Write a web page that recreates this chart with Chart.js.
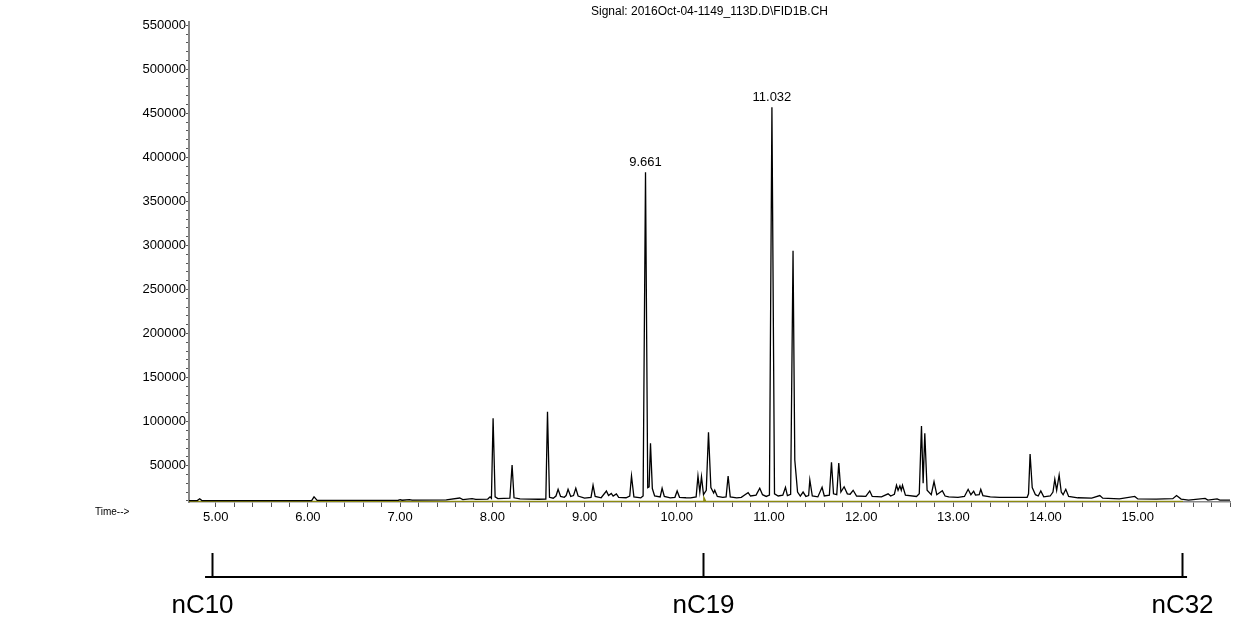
<!DOCTYPE html>
<html>
<head>
<meta charset="utf-8">
<script src="https://cdn.jsdelivr.net/npm/chart.js@4.4.0/dist/chart.umd.min.js"></script>
<style>
  html, body { margin: 0; padding: 0; background: #fff; }
  #wrap { width: 1233px; height: 623px; }
</style>
</head>
<body>
<div id="wrap"><canvas id="fidChart" width="1233" height="623"></canvas></div>
<script>
// retention time (min) and detector signal
const times = [
  4.71, 4.80, 4.826, 4.85, 5.50, 6.04, 6.066, 6.10, 6.50, 6.98, 7.00, 7.02, 7.10, 7.13,
  7.50, 7.646, 7.68, 7.78, 7.82, 7.95, 7.975, 7.99, 8.008, 8.03, 8.06, 8.19, 8.214, 8.235,
  8.30, 8.40, 8.50, 8.58, 8.598, 8.62, 8.66, 8.69, 8.713, 8.74, 8.78, 8.80, 8.821, 8.85,
  8.88, 8.905, 8.93, 9.00, 9.07, 9.092, 9.115, 9.18, 9.237, 9.26, 9.29, 9.31, 9.345, 9.37,
  9.45, 9.49, 9.509, 9.535, 9.61, 9.635, 9.661, 9.685, 9.70, 9.715, 9.735, 9.76, 9.82, 9.841,
  9.865, 9.93, 9.98, 10.004, 10.03, 10.10, 10.15, 10.21, 10.23, 10.25, 10.268, 10.29, 10.32, 10.344,
  10.37, 10.40, 10.412, 10.44, 10.50, 10.535, 10.557, 10.58, 10.65, 10.70, 10.74, 10.774, 10.80, 10.86,
  10.90, 10.93, 10.97, 11.005, 11.032, 11.06, 11.10, 11.15, 11.179, 11.20, 11.235, 11.261, 11.28, 11.31,
  11.34, 11.37, 11.40, 11.43, 11.443, 11.47, 11.53, 11.576, 11.60, 11.655, 11.678, 11.70, 11.735, 11.757,
  11.78, 11.815, 11.85, 11.88, 11.913, 11.95, 12.05, 12.093, 12.12, 12.22, 12.292, 12.32, 12.36, 12.383,
  12.40, 12.42, 12.435, 12.448, 12.48, 12.60, 12.63, 12.654, 12.672, 12.69, 12.715, 12.76, 12.79, 12.82,
  12.88, 12.91, 12.95, 13.05, 13.12, 13.16, 13.19, 13.22, 13.24, 13.28, 13.297, 13.32, 13.40, 13.50,
  13.65, 13.80, 13.815, 13.832, 13.855, 13.89, 13.92, 13.948, 13.98, 14.05, 14.08, 14.10, 14.12, 14.147,
  14.17, 14.19, 14.219, 14.25, 14.35, 14.50, 14.588, 14.62, 14.80, 14.967, 15.00, 15.20, 15.38, 15.42,
  15.47, 15.55, 15.73, 15.76, 15.86, 15.89, 16.00
];
const signal = [
  10300, 10300, 12300, 10300, 10200, 10300, 14500, 10600, 10500, 10700, 11300, 10700, 11300, 10800,
  11000, 13200, 11500, 12500, 11600, 12000, 14500, 12800, 103700, 14500, 12500, 13000, 50700, 13500,
  12300, 12000, 11800, 12000, 111200, 14000, 13000, 15500, 23100, 15000, 14000, 16000, 23100, 15000,
  16000, 24300, 15500, 13200, 14000, 27700, 15000, 13500, 21200, 16000, 18500, 15500, 17800, 14000,
  13500, 15500, 38200, 14500, 13500, 15500, 383100, 25000, 26000, 75300, 24000, 15500, 14500, 24300,
  15000, 13500, 14000, 21200, 14000, 13500, 13300, 14500, 38200, 20000, 37500, 17000, 22000, 87800,
  25000, 19000, 22000, 15000, 14000, 14500, 38200, 14500, 13500, 14000, 17000, 19300, 15500, 16500,
  24300, 17000, 15000, 16500, 456900, 18000, 15500, 16500, 25400, 16000, 17500, 293900, 56400, 20000,
  15500, 20000, 15000, 16000, 33700, 15500, 14500, 25400, 15500, 16500, 53800, 18000, 17000, 53000,
  20000, 26000, 18000, 17500, 22000, 15500, 15000, 21200, 15000, 14500, 18000, 15500, 17500, 27700,
  22000, 27000, 22000, 27700, 16500, 15000, 18000, 95000, 30000, 86700, 22000, 17000, 31800, 17000,
  21500, 15500, 14500, 14000, 15000, 23100, 17000, 21000, 16500, 17000, 23100, 16000, 14500, 14000,
  14000, 14000, 18000, 63200, 25000, 17000, 15500, 21200, 14500, 15500, 20000, 34500, 22000, 39400,
  20000, 17000, 23100, 15000, 13500, 13000, 16000, 13000, 12200, 15000, 12200, 12000, 12500, 16000,
  12000, 10800, 12800, 10800, 12300, 10800, 10800
];

// integration baseline (olive line under the trace)
const baselineTimes = [4.71, 10.29, 10.30, 10.30, 10.31, 15.49];
const baselineValues = [8700, 8700, 8700, 11000, 8700, 8700];

// axis ticks
const yTickValues = Array.from({ length: 55 }, (_, i) => (i + 1) * 10000);
const yTickLabels = [50000, 100000, 150000, 200000, 250000, 300000, 350000, 400000, 450000, 500000, 550000];
const xTickLabels = ['5.00', '6.00', '7.00', '8.00', '9.00', '10.00', '11.00', '12.00', '13.00', '14.00', '15.00'];

// labelled peaks
const peakTimes = [9.661, 11.032];
const peakLabels = ['9.661', '11.032'];

// n-alkane markers under the time axis
const markerTimes = [4.96, 10.28, 15.48];
const markerLabels = ['nC10', 'nC19', 'nC32'];

const titleText = 'Signal: 2016Oct-04-1149_113D.D\\FID1B.CH';

const xMin = 4.71, xMax = 16.0;
const yMin = 8700, yMax = 553300;

const ctx = document.getElementById('fidChart').getContext('2d');

const annotate = {
  id: 'annotate',
  afterDraw(chart) {
    const c = chart.ctx;
    const xs = chart.scales.x, ys = chart.scales.y;
    const area = chart.chartArea;
    c.save();
    c.fillStyle = '#000';

    // peak retention time labels
    c.font = '13px "Liberation Sans", Arial, sans-serif';
    c.textAlign = 'center';
    c.textBaseline = 'bottom';
    peakTimes.forEach((t, i) => {
      const idx = times.indexOf(t);
      const px = xs.getPixelForValue(t);
      const py = ys.getPixelForValue(signal[idx]);
      c.fillText(peakLabels[i], px, py - 3);
    });

    // Time--> caption
    c.font = '10px "Liberation Sans", Arial, sans-serif';
    c.textAlign = 'left';
    c.textBaseline = 'middle';
    c.fillText('Time-->', area.left - 94, area.bottom + 10);

    // carbon number bar
    const lineY = area.bottom + 75;
    const x0 = xs.getPixelForValue(markerTimes[0]) - 7;
    const x1 = xs.getPixelForValue(markerTimes[markerTimes.length - 1]) + 5;
    c.strokeStyle = '#000';
    c.lineWidth = 2;
    c.beginPath();
    c.moveTo(x0, lineY);
    c.lineTo(x1, lineY);
    c.stroke();
    c.font = '26px "Liberation Sans", Arial, sans-serif';
    c.textAlign = 'center';
    c.textBaseline = 'middle';
    markerTimes.forEach((t, i) => {
      const px = Math.round(xs.getPixelForValue(t)) + 0.5;
      c.beginPath();
      c.moveTo(px, lineY - 24);
      c.lineTo(px, lineY);
      c.stroke();
      c.fillText(markerLabels[i], i === 0 ? px - 10 : px, lineY + 29);
    });
    c.restore();
  }
};

new Chart(ctx, {
  type: 'line',
  data: {
    datasets: [{
      label: 'FID1 B',
      data: times.map((t, i) => ({ x: t, y: signal[i] })),
      borderColor: '#000',
      borderWidth: 1.3,
      pointRadius: 0,
      tension: 0,
      fill: false
    }, {
      label: 'baseline',
      data: baselineTimes.map((t, i) => ({ x: t, y: baselineValues[i] })),
      borderColor: '#8c8a10',
      borderWidth: 2.5,
      pointRadius: 0,
      tension: 0,
      fill: false
    }]
  },
  options: {
    responsive: false,
    animation: false,
    layout: { padding: { left: 0, right: 3, top: 0, bottom: 0 } },
    plugins: {
      legend: { display: false },
      tooltip: { enabled: false },
      title: {
        display: true,
        text: titleText,
        fullSize: false,
        color: '#000',
        font: { family: 'Liberation Sans', size: 12, weight: 'normal' },
        padding: { top: 4, bottom: 4 }
      }
    },
    scales: {
      x: {
        type: 'linear',
        min: xMin,
        max: xMax,
        afterBuildTicks: axis => {
          axis.ticks = axis.ticks.filter(t => Math.abs(t.value * 5 - Math.round(t.value * 5)) < 1e-6);
        },
        afterFit: axis => { axis.height = 121; },
        grid: { drawOnChartArea: false, tickLength: 5, tickColor: '#555', tickWidth: 1 },
        border: { color: '#888', width: 1.5 },
        ticks: {
          stepSize: 0.2,
          autoSkip: false,
          maxRotation: 0,
          padding: 3,
          color: '#000',
          font: { family: 'Liberation Sans', size: 13 },
          callback: v => {
            const label = v.toFixed(2);
            return xTickLabels.includes(label) ? label : '';
          }
        }
      },
      y: {
        min: yMin,
        max: yMax,
        afterBuildTicks: axis => {
          axis.ticks = yTickValues.map(v => ({ value: v }));
        },
        afterFit: axis => { axis.width = 189; },
        grid: { drawOnChartArea: false, tickLength: 3, tickColor: '#555', tickWidth: 1 },
        border: { color: '#888', width: 2 },
        ticks: {
          autoSkip: false,
          padding: 0,
          color: '#000',
          font: { family: 'Liberation Sans', size: 13 },
          callback: v => yTickLabels.includes(v) ? String(v) : ''
        }
      }
    }
  },
  plugins: [annotate]
});
</script>
</body>
</html>
